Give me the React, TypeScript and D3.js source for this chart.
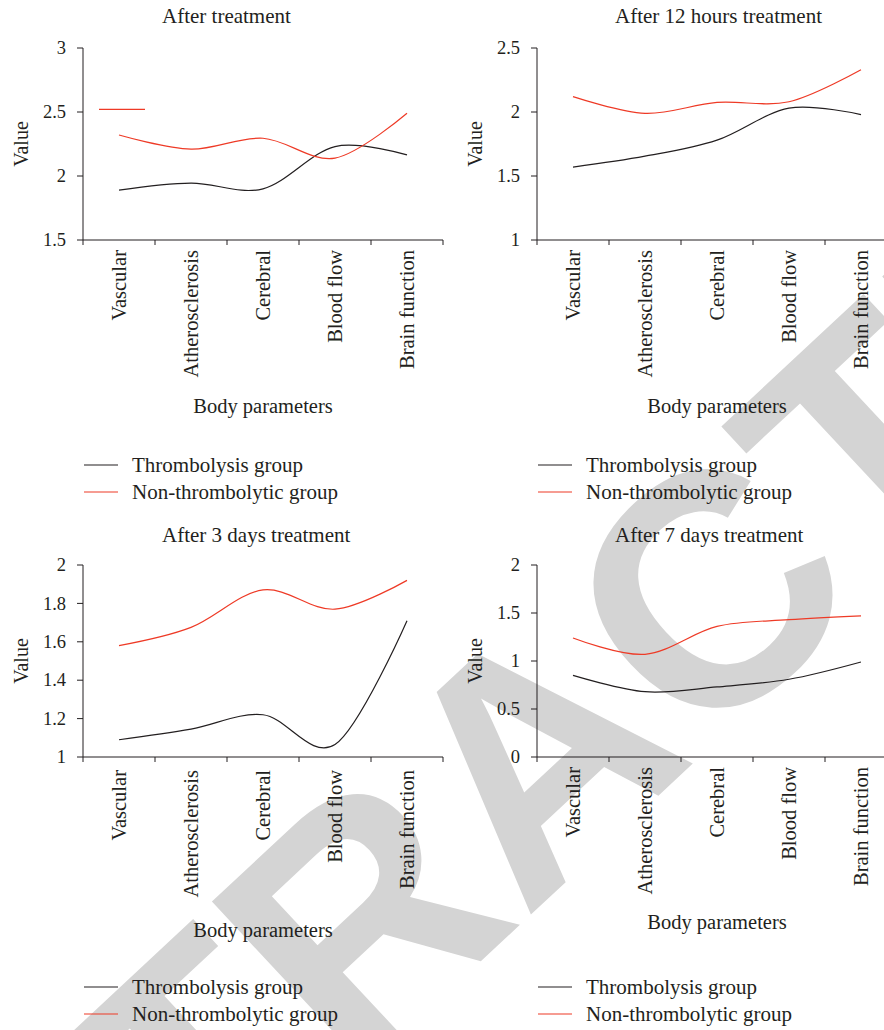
import React from "react";
import * as d3 from "d3";

// ---------- data ----------
const categories = ["Vascular", "Atherosclerosis", "Cerebral", "Blood flow", "Brain function"];
const seriesNames = ["Thrombolysis group", "Non-thrombolytic group"];
const panelTitles = [
  "After treatment",
  "After 12 hours treatment",
  "After 3 days treatment",
  "After 7 days treatment",
];
const xAxisTitle = "Body parameters";
const yAxisTitle = "Value";
const watermarkText = "RETRACTED";

const afterThrombolysis = [1.89, 1.945, 1.9, 2.23, 2.165];
const afterNonThrombolytic = [2.32, 2.21, 2.295, 2.14, 2.49];

const h12Thrombolysis = [1.57, 1.655, 1.78, 2.03, 1.98];
const h12NonThrombolytic = [2.12, 1.99, 2.075, 2.08, 2.33];

const d3Thrombolysis = [1.09, 1.145, 1.22, 1.065, 1.71];
const d3NonThrombolytic = [1.58, 1.675, 1.87, 1.77, 1.92];

const d7Thrombolysis = [0.85, 0.68, 0.73, 0.81, 0.99];
const d7NonThrombolytic = [1.24, 1.07, 1.36, 1.43, 1.47];

const ticksAfter = [1.5, 2, 2.5, 3];
const ticks12h = [1, 1.5, 2, 2.5];
const ticks3d = [1, 1.2, 1.4, 1.6, 1.8, 2];
const ticks7d = [0, 0.5, 1, 1.5, 2];

// stray legend key drawn inside the first panel of the original figure
const strayKeyValue = 2.52;

// ---------- style ----------
const BLACK = "#231f20";
const RED = "#ee3a26";
const FONT = "'Liberation Serif', 'Times New Roman', serif";

type PanelProps = {
  x0: number;
  yTop: number;
  yBot: number;
  title: string;
  titleX: number;
  titleY: number;
  ticks: number[];
  black: number[];
  red: number[];
  xTitleY: number;
  catGap: number;
  legendY: number;
  stray?: boolean;
};

function Panel(p: PanelProps) {
  const x = d3.scaleBand<string>().domain(categories).range([p.x0, p.x0 + 360]);
  const bw = x.bandwidth();
  const ext = d3.extent(p.ticks) as [number, number];
  const y = d3.scaleLinear().domain(ext).range([p.yBot, p.yTop]);
  const line = d3
    .line<number>()
    .x((_, i) => (x(categories[i]) as number) + bw / 2)
    .y((d) => y(d))
    .curve(d3.curveCardinal.tension(0));
  const boundaries = categories.map((c) => x(c) as number).concat([p.x0 + 360]);
  const midY = (p.yTop + p.yBot) / 2;
  const fmt = (v: number) => String(v);

  return (
    <g fontFamily={FONT} fill={BLACK}>
      <text x={p.titleX} y={p.titleY} fontSize={21}>
        {p.title}
      </text>
      {/* y axis */}
      <line x1={p.x0} x2={p.x0} y1={p.yTop} y2={p.yBot} stroke={BLACK} strokeWidth={1} />
      {p.ticks.map((t) => (
        <g key={t}>
          <line x1={p.x0 - 6} x2={p.x0} y1={y(t)} y2={y(t)} stroke={BLACK} strokeWidth={1} />
          <text x={p.x0 - 17} y={y(t)} dy="0.34em" textAnchor="end" fontSize={18.5}>
            {fmt(t)}
          </text>
        </g>
      ))}
      <text
        transform={`translate(${p.x0 - 55},${midY}) rotate(-90)`}
        textAnchor="middle"
        fontSize={20}
      >
        {yAxisTitle}
      </text>
      {/* x axis */}
      <line x1={p.x0} x2={p.x0 + 360} y1={p.yBot} y2={p.yBot} stroke={BLACK} strokeWidth={1} />
      {boundaries.map((b, i) => (
        <line key={i} x1={b} x2={b} y1={p.yBot} y2={p.yBot + 5} stroke={BLACK} strokeWidth={1} />
      ))}
      {categories.map((c) => (
        <text
          key={c}
          transform={`translate(${(x(c) as number) + bw / 2},${p.yBot + p.catGap}) rotate(-90)`}
          dy="0.35em"
          textAnchor="end"
          fontSize={20.5}
        >
          {c}
        </text>
      ))}
      <text x={p.x0 + 180} y={p.xTitleY} textAnchor="middle" fontSize={20.5}>
        {xAxisTitle}
      </text>
      {/* series */}
      <path d={line(p.black) as string} fill="none" stroke={BLACK} strokeWidth={1.2} />
      <path d={line(p.red) as string} fill="none" stroke={RED} strokeWidth={1.2} />
      {p.stray && (
        <line
          x1={p.x0 + 16}
          x2={p.x0 + 62}
          y1={y(strayKeyValue)}
          y2={y(strayKeyValue)}
          stroke={RED}
          strokeWidth={1.2}
        />
      )}
      {/* legend */}
      {seriesNames.map((s, i) => (
        <g key={s}>
          <line
            x1={p.x0 + 1}
            x2={p.x0 + 35}
            y1={p.legendY + i * 27}
            y2={p.legendY + i * 27}
            stroke={i === 0 ? BLACK : RED}
            strokeWidth={1.2}
          />
          <text x={p.x0 + 49} y={p.legendY + i * 27 + 7} fontSize={21}>
            {s}
          </text>
        </g>
      ))}
    </g>
  );
}

export default function App() {
  return (
    <svg
      width={884}
      height={1030}
      style={{ position: "absolute", left: 0, top: 0, background: "#fff" }}
    >
      <rect x={0} y={0} width={884} height={1030} fill="#fff" />
      <g transform="translate(531,752) rotate(-43)">
        <text
          textAnchor="middle"
          dy="0.36em"
          fontSize={330}
          fontWeight="bold"
          fontFamily="'Liberation Sans', Arial, sans-serif"
          fill="#d4d4d4"
        >
          {watermarkText}
        </text>
      </g>
      <Panel
        x0={83}
        yTop={48}
        yBot={240}
        title={panelTitles[0]}
        titleX={162}
        titleY={23}
        ticks={ticksAfter}
        black={afterThrombolysis}
        red={afterNonThrombolytic}
        xTitleY={413}
        catGap={10}
        legendY={465}
        stray
      />
      <Panel
        x0={537}
        yTop={48}
        yBot={240}
        title={panelTitles[1]}
        titleX={615}
        titleY={23}
        ticks={ticks12h}
        black={h12Thrombolysis}
        red={h12NonThrombolytic}
        xTitleY={413}
        catGap={10}
        legendY={465}
      />
      <Panel
        x0={83}
        yTop={565}
        yBot={757}
        title={panelTitles[2]}
        titleX={162}
        titleY={542}
        ticks={ticks3d}
        black={d3Thrombolysis}
        red={d3NonThrombolytic}
        xTitleY={937}
        catGap={13}
        legendY={987}
      />
      <Panel
        x0={537}
        yTop={565}
        yBot={757}
        title={panelTitles[3]}
        titleX={615}
        titleY={542}
        ticks={ticks7d}
        black={d7Thrombolysis}
        red={d7NonThrombolytic}
        xTitleY={929}
        catGap={10}
        legendY={987}
      />
    </svg>
  );
}
